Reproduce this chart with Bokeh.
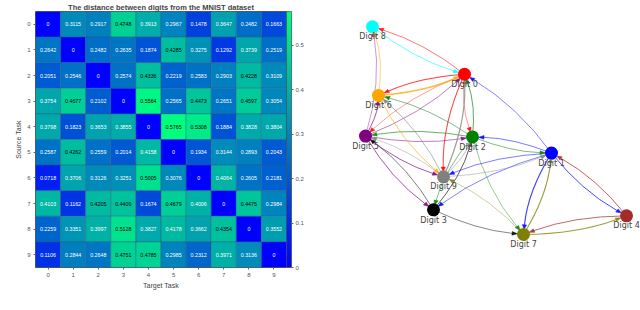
import numpy as np
from bokeh.plotting import figure
from bokeh.models import ColumnDataSource, LinearColorMapper, ColorBar, FixedTicker, Range1d
from bokeh.layouts import row
from bokeh.embed import file_html
from bokeh.resources import INLINE
from bokeh.core.properties import value

# ---------------- data ----------------
tasks = [str(i) for i in range(10)]
row0 = [0, 0.3115, 0.2917, 0.4748, 0.3913, 0.2967, 0.1478, 0.3647, 0.2482, 0.1663]
row1 = [0.2642, 0, 0.2482, 0.2635, 0.1874, 0.4285, 0.3275, 0.1292, 0.3739, 0.2519]
row2 = [0.2051, 0.2546, 0, 0.2574, 0.4336, 0.2219, 0.2583, 0.2903, 0.4228, 0.3109]
row3 = [0.3754, 0.4677, 0.2102, 0, 0.5564, 0.2565, 0.4473, 0.2651, 0.4597, 0.3054]
row4 = [0.3798, 0.1823, 0.3653, 0.3855, 0, 0.5765, 0.5308, 0.1884, 0.3828, 0.3804]
row5 = [0.2587, 0.4262, 0.2559, 0.2014, 0.4158, 0, 0.1934, 0.3144, 0.2893, 0.2043]
row6 = [0.0718, 0.3706, 0.3126, 0.3251, 0.5005, 0.3076, 0, 0.4064, 0.2605, 0.2181]
row7 = [0.4103, 0.1162, 0.4205, 0.4409, 0.1674, 0.4679, 0.4006, 0, 0.4475, 0.2984]
row8 = [0.2259, 0.3351, 0.3997, 0.5128, 0.3827, 0.4178, 0.3662, 0.4354, 0, 0.3552]
row9 = [0.1106, 0.2844, 0.2648, 0.4751, 0.4785, 0.2985, 0.2312, 0.3971, 0.3136, 0]
dist = [row0, row1, row2, row3, row4, row5, row6, row7, row8, row9]

title_text = "The distance between digits from the MNIST dataset"
x_label = "Target Task"
y_label = "Source Task"
cbar_ticks = [0, 0.1, 0.2, 0.3, 0.4, 0.5]
edge_threshold = 0.3

node_names = ["Digit %d" % i for i in range(10)]
# graph layout positions (node coordinates of the drawn layout)
node_x = [464, 551, 472, 433, 626, 365, 378, 523, 372, 443]
node_y = [74, 167, 148, 234, 241, 147, 99, 263, 18, 195]
node_colors = ["red", "blue", "green", "black", "brown", "purple",
               "orange", "olive", "cyan", "gray"]

FONT = "Liberation Sans"

# ---------------- heatmap ----------------
winter = ["#%02x%02x%02x" % (0, int(round(255 * t)), int(round(255 * (1 - 0.5 * t))))
          for t in np.linspace(0, 1, 256)]
vmax = max(max(r) for r in dist)
mapper = LinearColorMapper(palette=winter, low=0, high=vmax)

xs, ys, vals, labels, tcols = [], [], [], [], []
for i, r in enumerate(dist):
    for j, v in enumerate(r):
        xs.append(tasks[j]); ys.append(tasks[i]); vals.append(v)
        labels.append("0" if v == 0 else ("%.4f" % v))
        tcols.append("black" if v > 0.42 else "white")
hsrc = ColumnDataSource(dict(x=xs, y=ys, v=vals, label=labels, tc=tcols))

p1 = figure(width=320, height=302, x_range=tasks, y_range=list(reversed(tasks)),
            output_backend="svg", toolbar_location=None, title=title_text,
            min_border_left=35, min_border_right=34, min_border_top=2, min_border_bottom=35)
p1.rect(x="x", y="y", width=1, height=1, source=hsrc,
        fill_color={"field": "v", "transform": mapper},
        line_color="#2a5a80", line_width=0.6, line_alpha=0.7)
p1.text(x="x", y="y", text="label", source=hsrc, text_color="tc",
        text_align="center", text_baseline="middle",
        text_font_size="5.3px", text_font=value(FONT))

p1.title.align = "center"
p1.title.text_font = FONT
p1.title.text_font_size = "7.5px"
p1.title.text_font_style = "bold"
p1.title.standoff = 0
p1.title.offset = 6

for ax in (p1.xaxis[0], p1.yaxis[0]):
    ax.axis_line_color = None
    ax.major_tick_line_color = "#666666"
    ax.major_tick_in = 0
    ax.major_tick_out = 2
    ax.minor_tick_line_color = None
    ax.major_label_text_font = FONT
    ax.major_label_text_font_size = "6px"
    ax.major_label_text_color = "#555555"
    ax.axis_label_text_font = FONT
    ax.axis_label_text_font_size = "7px"
    ax.axis_label_text_font_style = "normal"
    ax.axis_label_text_color = "#444444"
    ax.major_label_standoff = 3
    ax.axis_label_standoff = 2
p1.xaxis.axis_label = x_label
p1.yaxis.axis_label = y_label
p1.grid.grid_line_color = None
p1.outline_line_color = "#333333"
p1.outline_line_width = 0.8

cbar = ColorBar(color_mapper=mapper, ticker=FixedTicker(ticks=cbar_ticks),
                width=5, padding=0, margin=2, label_standoff=2,
                major_label_text_font=FONT, major_label_text_font_size="6px",
                major_label_text_color="#555555",
                major_tick_in=0, major_tick_out=2, major_tick_line_color="#666666",
                bar_line_color="#333333", bar_line_width=0.6,
                major_label_overrides={0: "0"})
p1.add_layout(cbar, "right")

# ---------------- graph ----------------
p2 = figure(width=320, height=302, x_range=Range1d(320, 640), y_range=Range1d(302, 0),
            output_backend="svg", toolbar_location=None, min_border=0)
p2.axis.visible = False
p2.grid.grid_line_color = None
p2.outline_line_color = None

node_r = 6.0
rad = 0.1
ex0, ey0, ex1, ey1, ecx, ecy, ecol, ew, ahx, ahy = [], [], [], [], [], [], [], [], [], []
for s in range(10):
    for t in range(10):
        d = dist[s][t]
        if s == t or d >= edge_threshold:
            continue
        x0, y0 = node_x[s], node_y[s]
        x2, y2 = node_x[t], node_y[t]
        dx, dy = x2 - x0, y2 - y0
        cx = (x0 + x2) / 2 - rad * dy
        cy = (y0 + y2) / 2 + rad * dx
        ux, uy = x2 - cx, y2 - cy
        n = np.hypot(ux, uy)
        ux, uy = ux / n, uy / n
        tipx, tipy = x2 - ux * node_r, y2 - uy * node_r
        bx, by = tipx - ux * 5.5, tipy - uy * 5.5
        px, py = -uy, ux
        ex0.append(x0); ey0.append(y0); ex1.append(bx); ey1.append(by)
        ecx.append(cx); ecy.append(cy); ecol.append(node_colors[s])
        ew.append(0.5 + (edge_threshold - d) * 4)
        ahx.append([tipx, bx + px * 2.2, bx - px * 2.2])
        ahy.append([tipy, by + py * 2.2, by - py * 2.2])

esrc = ColumnDataSource(dict(x0=ex0, y0=ey0, x1=ex1, y1=ey1, cx=ecx, cy=ecy, c=ecol, w=ew))
p2.quadratic(x0="x0", y0="y0", x1="x1", y1="y1", cx="cx", cy="cy", source=esrc,
             line_color="c", line_width="w", line_alpha=0.75)
asrc = ColumnDataSource(dict(xs=ahx, ys=ahy, c=ecol))
p2.patches(xs="xs", ys="ys", source=asrc, fill_color="c", line_color="c",
           line_width=0.4, fill_alpha=0.9)

nsrc = ColumnDataSource(dict(x=node_x, y=node_y, c=node_colors, name=node_names,
                             ly=[v + 12 for v in node_y]))
p2.scatter(x="x", y="y", source=nsrc, size=13, fill_color="c", line_color=None)
p2.text(x="x", y="ly", text="name", source=nsrc, text_align="center",
        text_baseline="middle", text_color="#444444",
        text_font_size="8px", text_font=value("DejaVu Sans"))

layout = row(p1, p2, margin=(0, 0, 0, 0))
open("out.html", "w").write(file_html(layout, INLINE))
